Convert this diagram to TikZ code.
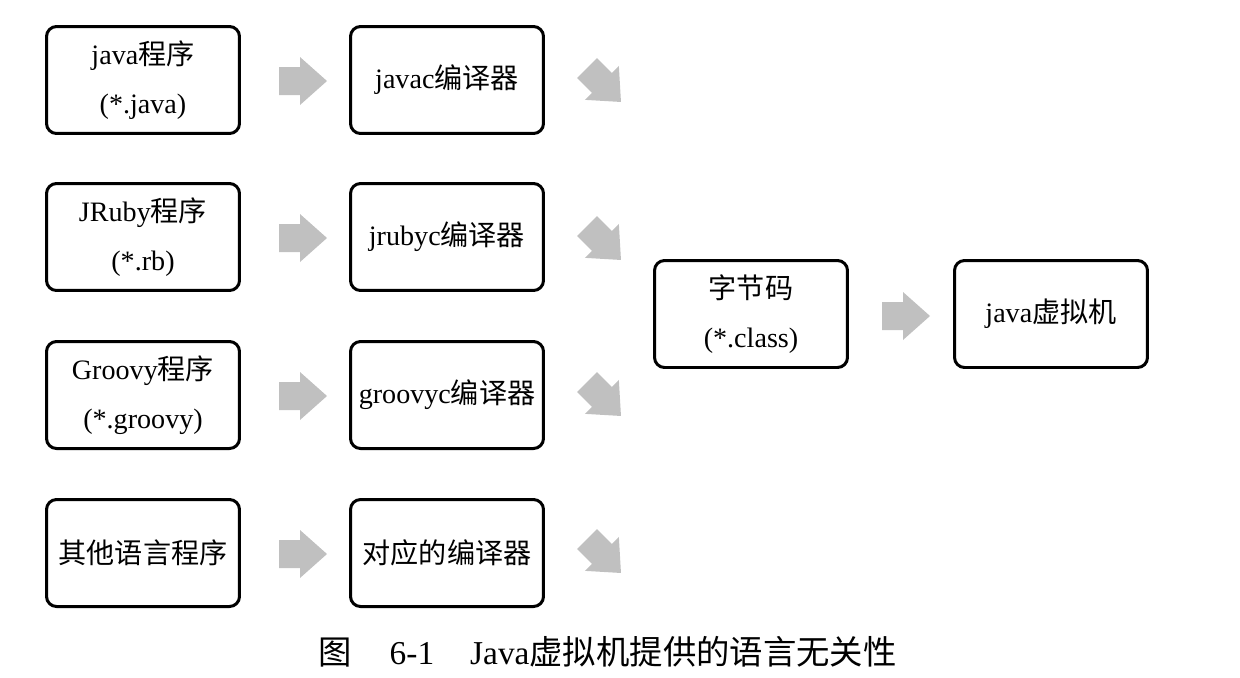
\documentclass[tikz,border=0pt]{standalone}
\usepackage{fontspec}
\setmainfont{Liberation Serif}
\newfontfamily\cjk{Noto Sans CJK SC}
\newcommand{\zh}[1]{{\cjk #1}}
\definecolor{agray}{RGB}{192, 192, 192}

\begin{document}
\begin{tikzpicture}[x = 0.02cm, y = -0.02cm,
	box/.style = {draw, line width = 0.06cm, rounded corners = 0.2cm, minimum width = 3.86cm, minimum height = 2.14cm, inner sep = 2pt, align = center, font = \fontsize{16}{28}\selectfont},
	pics/blockarrow/.style = {code = {\fill[agray] (-24,-14) -- (-3,-14) -- (-3,-24) -- (24,0) -- (-3,24) -- (-3,14) -- (-24,14) -- cycle;}}]
			\useasboundingbox (0,0) rectangle (1240,677);
			\node (javap) at (143,80) [box] {java\zh{程序}\\(*.java)};
			\node (rubyp) at (143,237) [box] {JRuby\zh{程序}\\(*.rb)};
			\node (groovyp) at (143,395) [box] {Groovy\zh{程序}\\(*.groovy)};
			\node (otherp) at (143,553) [box] {\zh{其他语言程序}};
			\node (javac) at (447,80) [box] {javac\zh{编译器}};
			\node (rubyc) at (447,237) [box] {jrubyc\zh{编译器}};
			\node (groovyc) at (447,395) [box] {groovyc\zh{编译器}};
			\node (otherc) at (447,553) [box] {\zh{对应的编译器}};
			\node (bc) at (751,314) [box] {\zh{字节码}\\(*.class)};
			\node (jvm) at (1051,314) [box] {java\zh{虚拟机}};
			\pic at (303,81) {blockarrow};
			\pic at (303,238) {blockarrow};
			\pic at (303,396) {blockarrow};
			\pic at (303,554) {blockarrow};
			\pic[rotate = -45] at (604,85) {blockarrow};
			\pic[rotate = -45] at (604,243) {blockarrow};
			\pic[rotate = -45] at (604,399) {blockarrow};
			\pic[rotate = -45] at (604,556) {blockarrow};
			\pic at (906,316) {blockarrow};
			\node (cap) at (318,652) [anchor = west, inner sep = 0pt, font = \fontsize{19}{22}\selectfont] {\zh{图}\hspace{0.76cm}6-1\hspace{0.72cm}Java\zh{虚拟机提供的语言无关性}};
			\end{tikzpicture}
\end{document}
